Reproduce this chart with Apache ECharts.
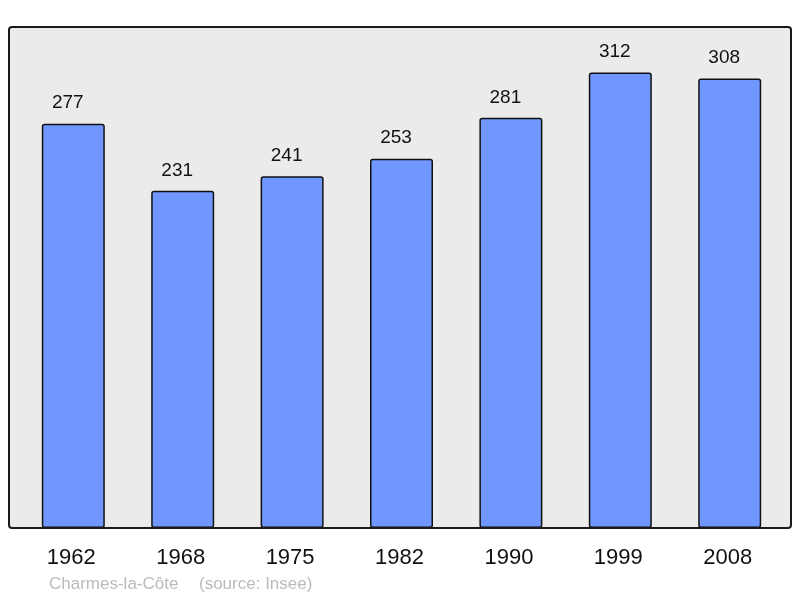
<!DOCTYPE html>
<html>
<head>
<meta charset="utf-8">
<script src="https://cdn.jsdelivr.net/npm/echarts@6/dist/echarts.min.js"></script>
<style>
  html, body { margin: 0; padding: 0; background: #fff; }
  #chart { width: 800px; height: 598px; }
</style>
</head>
<body>
<div id="chart"></div>
<script>
// population by census year
var years = ['1962', '1968', '1975', '1982', '1990', '1999', '2008'];
var population = [277, 231, 241, 253, 281, 312, 308];
var commune = 'Charmes-la-Côte';
var source = '(source: Insee)';

var myChart = echarts.init(document.getElementById('chart'));

var captionFont = '17px Liberation Sans, Arial, sans-serif';

var option = {
  animation: false,
  textStyle: { fontFamily: 'Liberation Sans, Arial, sans-serif' },
  grid: { left: 18.6, right: 15.6, top: 27, bottom: 70 },
  graphic: [
    // frame background
    {
      type: 'rect', z: -10,
      shape: { x: 9, y: 27, width: 782, height: 501, r: 3 },
      style: { fill: '#ebebeb', stroke: null }
    },
    // frame border on top
    {
      type: 'rect', z: 100,
      shape: { x: 9, y: 27, width: 782, height: 501, r: 3 },
      style: { fill: null, stroke: '#1a1a1a', lineWidth: 2 }
    },
    {
      type: 'text', left: 49, top: 576,
      style: { text: commune, fill: '#bbbbbb', font: captionFont }
    },
    {
      type: 'text', left: 199, top: 576,
      style: { text: source, fill: '#bbbbbb', font: captionFont }
    }
  ],
  xAxis: {
    type: 'category',
    data: years,
    axisLine: { show: false },
    axisTick: { show: false },
    axisLabel: { color: '#111', fontSize: 22, margin: 19, padding: [0, 4, 0, 0] }
  },
  yAxis: {
    type: 'value',
    min: 0,
    max: 343.2,
    show: false,
    splitLine: { show: false }
  },
  series: [{
    type: 'bar',
    data: population,
    barWidth: 63,
    itemStyle: {
      color: '#7097ff',
      borderColor: '#111',
      borderWidth: 1.5,
      borderRadius: 2
    },
    label: {
      show: true,
      position: 'top',
      distance: 11,
      offset: [-5.5, 0],
      color: '#111',
      fontSize: 19
    }
  }]
};

myChart.setOption(option);
</script>
</body>
</html>
